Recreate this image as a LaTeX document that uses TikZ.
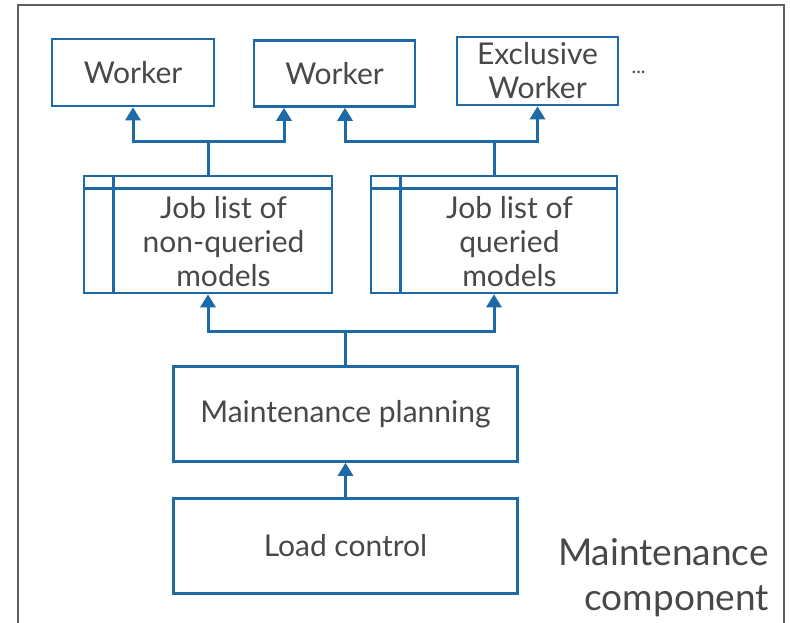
\documentclass[tikz,border=0pt]{standalone}
\usepackage{fontspec}
\setmainfont{Lato}
\usetikzlibrary{arrows.meta}
\definecolor{linkblue}{RGB}{30,106,166}
\definecolor{txtgray}{RGB}{72,72,72}
\definecolor{framegray}{RGB}{95,95,95}
\begin{document}
\begin{tikzpicture}[x=1pt,y=-1pt,
  box/.style={draw=linkblue, line width=2.6pt, inner sep=0pt, text=txtgray,
    font=\fontsize{30}{34}\selectfont, align=center},
  boxtext/.style={inner sep=0pt, text=txtgray, font=\fontsize{30}{34}\selectfont, align=center},
  arr/.style={draw=linkblue, line width=3pt, -{Triangle[width=15pt,length=13pt]}},
  link/.style={draw=linkblue, line width=3pt}
]
\useasboundingbox (0,0) rectangle (790,623);
% outer frame, open at the bottom
\draw[framegray, line width=2.4pt] (18,640) -- (18,5) -- (784,5) -- (784,640);

% workers
\node[box, minimum width=162pt, minimum height=67pt] (w1) at (133,72.5) {Worker};
\node[box, minimum width=161pt, minimum height=66pt] (w2) at (334.5,73.5) {Worker};
\node[box, minimum width=161pt, minimum height=68pt] (w3) at (537.5,71) {Exclusive\\Worker};
\node[text=txtgray, font=\fontsize{20}{24}\selectfont, anchor=west] (more) at (628,72) {...};

% job lists: outer frame with a header band and a side column
\node[box, minimum width=248pt, minimum height=117pt] (jl1) at (208,234.5) {};
\node[box, minimum width=246pt, minimum height=117pt] (jl2) at (494,234.5) {};
\foreach \n in {jl1,jl2}{
  \draw[linkblue, line width=2.6pt] ([yshift=-14pt]\n.north west) -- ([yshift=-14pt]\n.north east);
  \draw[linkblue, line width=2.6pt] ([xshift=31pt]\n.north west) -- ([xshift=31pt]\n.south west);
}
\node[boxtext] (jl1t) at (223.5,242) {Job list of\\non-queried\\models};
\node[boxtext] (jl2t) at (509.5,242) {Job list of\\queried\\models};

% planning and load control
\node[box, minimum width=344pt, minimum height=95pt] (mp) at (345.5,414) {Maintenance planning};
\node[box, minimum width=344pt, minimum height=95pt] (lc) at (345.5,546) {Load control};

\node[text=txtgray, font=\fontsize{37}{45}\selectfont, align=right, anchor=base east, inner sep=0pt]
  (title) at (769,610) {Maintenance\\component};

% junction points
\coordinate (ja) at (208,142);
\coordinate (jb) at (494,142);
\coordinate (jc) at (345.5,331);
\coordinate (x2a) at (284,0);
\coordinate (x2b) at (345,0);

% connectors
\draw[link] (jl1.north) -- (ja);
\draw[arr] (ja) -| (w1.south);
\draw[arr] (ja) -| (w2.south -| x2a);
\draw[link] (jl2.north) -- (jb);
\draw[arr] (jb) -| (w2.south -| x2b);
\draw[arr] (jb) -| (w3.south);
\draw[link] (mp.north) -- (jc);
\draw[arr] (jc) -| (jl1.south);
\draw[arr] (jc) -| (jl2.south);
\draw[arr] (lc.north) -- (mp.south);
\end{tikzpicture}
\end{document}
